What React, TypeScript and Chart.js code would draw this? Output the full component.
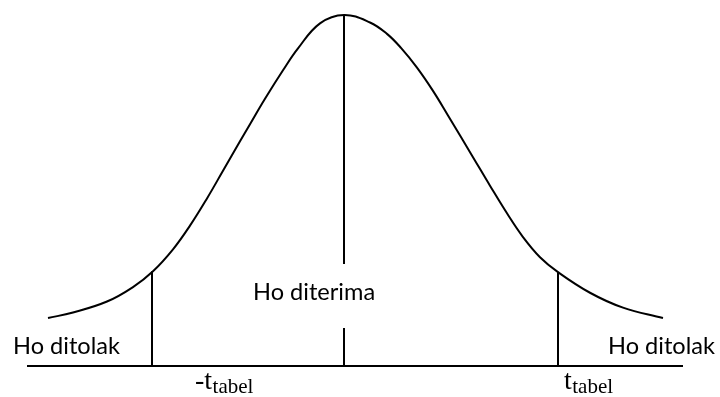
import React, { useEffect, useRef } from "react";
import { Chart, registerables } from "chart.js";

Chart.register(...registerables);

// Bell curve: t value and density
const curveT = [
  -2.96, -2.71, -2.37, -2.11, -1.91, -1.71, -1.54, -1.37, -1.21, -1.04, -0.94, -0.79, -0.61, -0.46, -0.24, 0,
  0.26, 0.43, 0.57, 0.73, 0.89, 1.04, 1.29, 1.46, 1.63, 1.79, 1.96, 2.14, 2.46, 2.79, 3.19,
];
const curveDensity = [
  0.0547, 0.061, 0.0735, 0.09, 0.108, 0.133, 0.16, 0.191, 0.2225, 0.256, 0.2755, 0.3045, 0.337, 0.362, 0.3905, 0.4,
  0.3915, 0.3785, 0.3625, 0.34, 0.3135, 0.2855, 0.238, 0.2055, 0.174, 0.147, 0.124, 0.107, 0.0835, 0.0665, 0.0547,
];

// Critical values and their curve heights
const tTabel = [-1.92, 2.14];
const tTabelHeight = [0.108, 0.107];

// Centre line: upper segment and lower segment (gap for label)
const centreUpper = [0.4, 0.1162];
const centreLower = [0.0433, 0];

// Horizontal axis extent
const axisT = [-3.17, 3.39];

// Labels
const rejectLabel = "Ho ditolak";
const acceptLabel = "Ho diterima";
const tMain = "t";
const tSub = "tabel";

const labelPlugin = {
  id: "labels",
  afterDatasetsDraw(chart: any) {
    const { ctx, scales } = chart;
    const x = scales.x;
    const y = scales.y;
    ctx.save();
    ctx.fillStyle = "#000";
    ctx.textBaseline = "alphabetic";
    ctx.textAlign = "left";

    // fit sans font to the reference width
    ctx.font = "24px Lato";
    const w = ctx.measureText(rejectLabel).width;
    const size = (24 * 107) / w;
    ctx.font = `${size}px Lato`;
    ctx.fillText(rejectLabel, x.getPixelForValue(-3.31), y.getPixelForValue(0.0137));
    ctx.fillText(rejectLabel, x.getPixelForValue(2.64), y.getPixelForValue(0.0137));
    ctx.fillText(acceptLabel, x.getPixelForValue(-0.91), y.getPixelForValue(0.0752));

    const drawT = (tx: number, prefix: string) => {
      ctx.font = "28px 'Liberation Serif'";
      const px = x.getPixelForValue(tx);
      const base = y.getPixelForValue(-0.0262);
      const main = prefix + tMain;
      ctx.fillText(main, px, base);
      const mw = ctx.measureText(main).width;
      ctx.font = "21px 'Liberation Serif'";
      ctx.fillText(tSub, px + mw + 0.5, base + 4);
    };
    drawT(-1.49, "-");
    drawT(2.2, "");
    ctx.restore();
  },
};

export default function App() {
  const ref = useRef<HTMLCanvasElement | null>(null);

  useEffect(() => {
    if (!ref.current) return;
    const line = (data: { x: number; y: number }[], tension = 0) => ({
      data,
      borderColor: "#000",
      borderWidth: 2,
      pointRadius: 0,
      fill: false,
      tension,
    });
    const chart = new Chart(ref.current, {
      type: "line",
      data: {
        datasets: [
          line(curveT.map((t, i) => ({ x: t, y: curveDensity[i] })), 0.4),
          line(axisT.map((t) => ({ x: t, y: 0 }))),
          line([
            { x: tTabel[0], y: 0 },
            { x: tTabel[0], y: tTabelHeight[0] },
          ]),
          line([
            { x: tTabel[1], y: 0 },
            { x: tTabel[1], y: tTabelHeight[1] },
          ]),
          line(centreUpper.map((d) => ({ x: 0, y: d }))),
          line(centreLower.map((d) => ({ x: 0, y: d }))),
        ],
      },
      options: {
        animation: false,
        responsive: false,
        maintainAspectRatio: false,
        layout: { padding: 0 },
        plugins: { legend: { display: false }, tooltip: { enabled: false } },
        scales: {
          x: { type: "linear", min: -3.44, max: 3.76, display: false },
          y: { type: "linear", min: -0.0353, max: 0.4171, display: false },
        },
      },
      plugins: [labelPlugin],
    });
    return () => chart.destroy();
  }, []);

  return (
    <div style={{ position: "absolute", left: 0, top: 0, width: 720, height: 397, background: "#fff" }}>
      <canvas ref={ref} width={720} height={397} style={{ display: "block" }} />
    </div>
  );
}
